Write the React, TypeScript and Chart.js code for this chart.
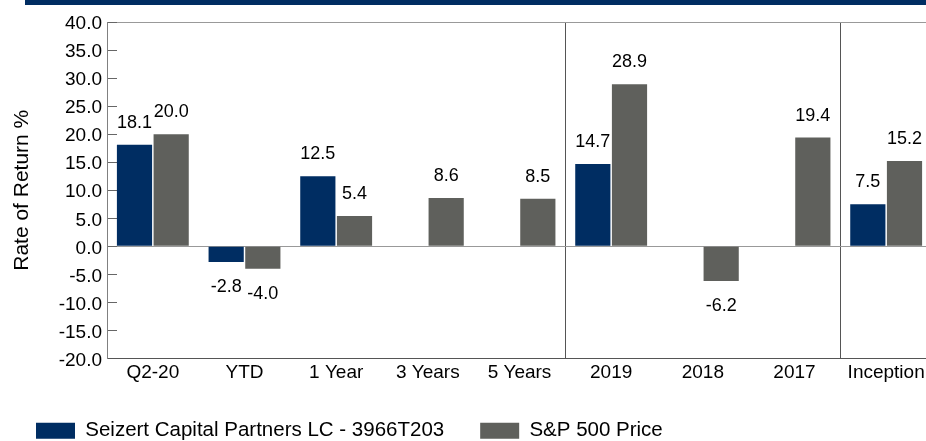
import React, { useEffect, useRef } from "react";
import { Chart, registerables } from "chart.js";

Chart.register(...registerables);

const categories = ["Q2-20", "YTD", "1 Year", "3 Years", "5 Years", "2019", "2018", "2017", "Inception"];
const seizertValues: (number | null)[] = [18.1, -2.8, 12.5, null, null, 14.7, null, null, 7.5];
const sp500Values: (number | null)[] = [20.0, -4.0, 5.4, 8.6, 8.5, 28.9, -6.2, 19.4, 15.2];
const seriesNames = ["Seizert Capital Partners LC - 3966T203", "S&P 500 Price"];
const yMin = -20;
const yMax = 40;
const yStep = 5;
const separatorIndices = [5, 8];

const FONT = '"Liberation Sans", Arial, sans-serif';
const NAVY = "#002D62";
const GRAY = "#5F605C";

const valueLabels = {
  id: "valueLabels",
  afterDatasetsDraw(chart: any) {
    const ctx = chart.ctx;
    ctx.save();
    ctx.font = `18px ${FONT}`;
    ctx.fillStyle = "#000";
    ctx.textAlign = "center";
    ctx.textBaseline = "alphabetic";
    chart.data.datasets.forEach((ds: any, i: number) => {
      const meta = chart.getDatasetMeta(i);
      meta.data.forEach((el: any, j: number) => {
        const v = ds.data[j];
        if (v === null || v === undefined) return;
        const y = v >= 0 ? el.y - 17 : el.y + 30;
        ctx.fillText(Number(v).toFixed(1), el.x, y);
      });
    });
    ctx.restore();
  },
};

export default function App() {
  const canvasRef = useRef<HTMLCanvasElement | null>(null);

  useEffect(() => {
    if (!canvasRef.current) return;
    const chart = new Chart(canvasRef.current, {
      type: "bar",
      data: {
        labels: categories,
        datasets: [
          {
            label: seriesNames[0],
            data: seizertValues,
            backgroundColor: NAVY,
            borderWidth: 0,
            categoryPercentage: 0.8,
            barPercentage: 0.96,
          },
          {
            label: seriesNames[1],
            data: sp500Values,
            backgroundColor: GRAY,
            borderWidth: 0,
            categoryPercentage: 0.8,
            barPercentage: 0.96,
          },
        ],
      },
      options: {
        responsive: false,
        animation: false,
        devicePixelRatio: 1,
        layout: { padding: { top: 22, left: 0, right: 0, bottom: 0 } },
        plugins: {
          tooltip: { enabled: false },
          legend: {
            position: "bottom",
            align: "start",
            labels: {
              boxWidth: 39,
              boxHeight: 16,
              padding: 36,
              color: "#000",
              font: { family: FONT, size: 20.5 },
            },
          },
        },
        scales: {
          x: {
            offset: true,
            afterFit: (s: any) => {
              s.height = 26;
            },
            grid: {
              offset: true,
              drawTicks: false,
              color: (c: any) => (separatorIndices.includes(c.index) ? "#555" : "rgba(0,0,0,0)"),
              lineWidth: 1,
            },
            border: { display: true, color: "#555", width: 1 },
            ticks: {
              color: "#000",
              padding: 3,
              font: { family: FONT, size: 19 },
              maxRotation: 0,
              autoSkip: false,
            },
          },
          y: {
            min: yMin,
            max: yMax,
            afterFit: (s: any) => {
              s.width = 107;
              s.paddingTop = 0;
              s.paddingBottom = 0;
            },
            ticks: {
              stepSize: yStep,
              color: "#000",
              padding: 15,
              labelOffset: 2,
              font: { family: FONT, size: 19 },
              callback: (v: any) => Number(v).toFixed(1),
            },
            grid: {
              drawTicks: true,
              tickLength: -10,
              tickColor: "#666",
              color: (c: any) =>
                c.tick && (c.tick.value === 0 || c.tick.value === yMax) ? "#999" : "rgba(0,0,0,0)",
            },
            border: { display: true, color: "#808080", width: 1 },
            title: {
              display: true,
              text: "Rate of Return %",
              color: "#000",
              font: { family: FONT, size: 21 },
              padding: { top: 10, bottom: 0 },
            },
          },
        },
      },
      plugins: [valueLabels],
    } as any);
    return () => chart.destroy();
  }, []);

  return (
    <div
      style={{
        position: "absolute",
        left: 0,
        top: 0,
        width: 926,
        height: 441,
        overflow: "hidden",
        background: "#fff",
      }}
    >
      <div
        style={{
          position: "absolute",
          left: 25,
          top: 0,
          width: 901,
          height: 5,
          background: NAVY,
        }}
      />
      <canvas
        ref={canvasRef}
        width={932}
        height={451}
        style={{ position: "absolute", left: 0, top: 0, width: 932, height: 451 }}
      />
    </div>
  );
}
